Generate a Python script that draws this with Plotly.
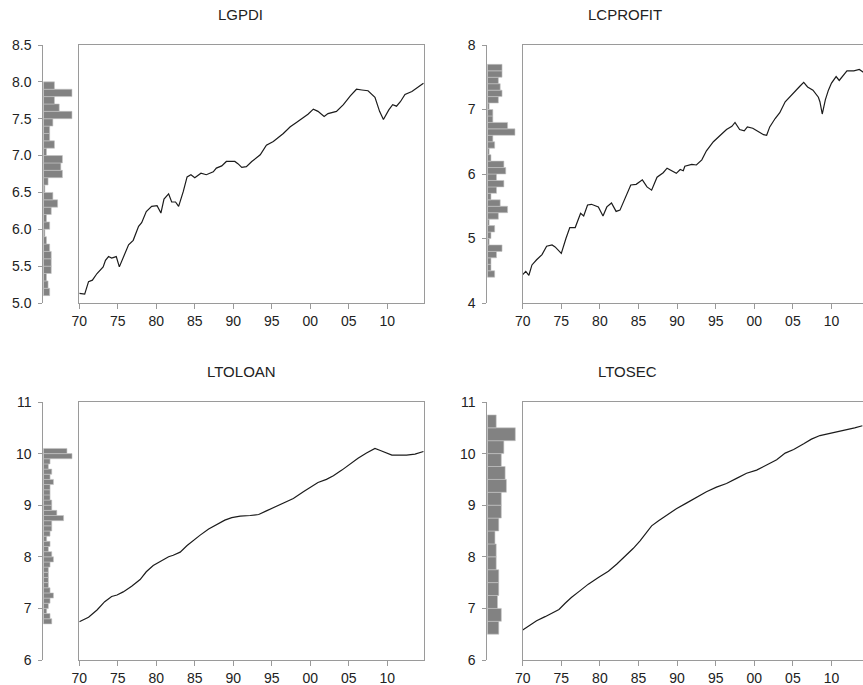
import plotly.graph_objects as go

W, H = 863, 685

# ---------------- series (year, log level) ----------------
lgpdi_year = [
    1970.0, 1970.7, 1971.2, 1971.7, 1972.3, 1973.1, 1973.4, 1973.8, 1974.2, 1974.8,
    1975.2, 1975.7, 1976.4, 1977.0, 1977.7, 1978.1, 1978.7, 1979.4, 1980.1, 1980.6,
    1981.0, 1981.6, 1982.0, 1982.5, 1982.9, 1983.5, 1984.0, 1984.5, 1985.0, 1985.8,
    1986.5, 1987.4, 1987.8, 1988.5, 1989.1, 1990.2, 1990.6, 1991.1, 1991.7, 1992.4,
    1993.5, 1994.3, 1995.2, 1996.5, 1997.4, 1998.2, 1999.1, 1999.7, 2000.4, 2001.0,
    2001.8, 2002.3, 2003.4, 2004.3, 2005.2, 2006.0, 2006.7, 2007.5, 2008.4, 2009.0,
    2009.5, 2010.2, 2010.7, 2011.2, 2011.7, 2012.3, 2013.2, 2014.1, 2014.7]
lgpdi_val = [
    5.13, 5.12, 5.29, 5.31, 5.40, 5.49, 5.58, 5.63, 5.61, 5.63,
    5.49, 5.61, 5.79, 5.85, 6.04, 6.09, 6.24, 6.31, 6.32, 6.22,
    6.41, 6.48, 6.37, 6.37, 6.31, 6.51, 6.71, 6.74, 6.70, 6.76,
    6.74, 6.78, 6.83, 6.86, 6.92, 6.92, 6.89, 6.84, 6.85, 6.92,
    7.01, 7.14, 7.19, 7.30, 7.39, 7.45, 7.52, 7.56, 7.63, 7.60,
    7.53, 7.57, 7.60, 7.69, 7.81, 7.90, 7.89, 7.88, 7.79, 7.60,
    7.49, 7.62, 7.69, 7.67, 7.73, 7.83, 7.87, 7.93, 7.98]

lcprofit_year = [
    1970.0, 1970.4, 1970.8, 1971.2, 1971.8, 1972.5, 1973.1, 1973.8, 1974.2, 1975.0,
    1975.6, 1976.1, 1976.8, 1977.5, 1977.9, 1978.4, 1978.9, 1979.8, 1980.4, 1980.9,
    1981.5, 1982.1, 1982.6, 1983.4, 1984.0, 1984.7, 1985.5, 1986.1, 1986.7, 1987.4,
    1988.2, 1988.7, 1989.4, 1989.9, 1990.4, 1990.8, 1991.0, 1991.9, 1992.5, 1993.2,
    1993.8, 1994.7, 1995.6, 1996.4, 1997.1, 1997.5, 1998.1, 1998.7, 1999.1, 1999.8,
    2000.5, 2001.2, 2001.6, 2002.0, 2002.7, 2003.3, 2004.0, 2004.6, 2005.3, 2005.9,
    2006.4, 2006.9, 2007.6, 2008.3, 2008.5, 2008.8, 2009.2, 2009.6, 2010.0, 2010.6,
    2011.0, 2011.5, 2012.0, 2012.9, 2013.6, 2014.2]
lcprofit_val = [
    4.44, 4.49, 4.43, 4.59, 4.67, 4.75, 4.88, 4.90, 4.87, 4.77,
    5.00, 5.17, 5.17, 5.39, 5.35, 5.52, 5.53, 5.49, 5.35, 5.49,
    5.55, 5.42, 5.44, 5.65, 5.83, 5.84, 5.91, 5.80, 5.75, 5.95,
    6.02, 6.09, 6.04, 6.01, 6.07, 6.05, 6.12, 6.15, 6.14, 6.22,
    6.36, 6.50, 6.60, 6.69, 6.74, 6.80, 6.69, 6.67, 6.73, 6.71,
    6.66, 6.61, 6.60, 6.73, 6.86, 6.95, 7.12, 7.20, 7.28, 7.36,
    7.42, 7.35, 7.30, 7.19, 7.12, 6.93, 7.15, 7.30, 7.41, 7.51,
    7.45, 7.52, 7.60, 7.60, 7.62, 7.57]

ltoloan_year = [
    1970.0, 1971.2, 1972.3, 1973.3, 1974.2, 1974.9, 1975.7, 1976.8, 1977.9, 1978.7,
    1979.6, 1980.5, 1981.6, 1982.2, 1983.1, 1984.0, 1984.9, 1985.7, 1986.8, 1987.8,
    1988.9, 1989.8, 1990.9, 1992.2, 1993.3, 1994.3, 1995.4, 1996.7, 1997.8, 1999.1,
    2000.2, 2001.0, 2002.1, 2003.0, 2004.1, 2005.2, 2006.2, 2007.3, 2008.0, 2008.4,
    2009.1, 2009.9, 2010.6, 2011.4, 2012.5, 2013.6, 2014.7]
ltoloan_val = [
    6.74, 6.83, 6.97, 7.13, 7.23, 7.26, 7.32, 7.43, 7.56, 7.71,
    7.83, 7.91, 8.00, 8.03, 8.09, 8.22, 8.33, 8.42, 8.54, 8.62,
    8.71, 8.76, 8.79, 8.80, 8.82, 8.89, 8.97, 9.06, 9.13, 9.26,
    9.37, 9.44, 9.50, 9.57, 9.68, 9.80, 9.91, 10.01, 10.07, 10.10,
    10.06, 10.01, 9.97, 9.97, 9.97, 9.99, 10.04]

ltosec_year = [
    1970.0, 1970.9, 1971.8, 1972.9, 1974.0, 1974.7, 1975.5, 1976.3, 1977.4, 1978.5,
    1979.8, 1981.1, 1982.2, 1983.2, 1984.3, 1985.2, 1986.1, 1986.7, 1987.6, 1988.7,
    1989.9, 1991.2, 1992.5, 1993.8, 1995.1, 1996.4, 1997.7, 1999.0, 2000.3, 2001.6,
    2002.9, 2004.0, 2005.1, 2006.4, 2007.4, 2008.5, 2009.8, 2010.9, 2011.9, 2013.0,
    2014.0]
ltosec_val = [
    6.58, 6.67, 6.76, 6.84, 6.92, 6.98, 7.10, 7.21, 7.34, 7.47,
    7.60, 7.72, 7.86, 8.00, 8.16, 8.31, 8.49, 8.60, 8.70, 8.81,
    8.93, 9.04, 9.15, 9.26, 9.35, 9.42, 9.52, 9.62, 9.68, 9.78,
    9.88, 10.01, 10.08, 10.19, 10.28, 10.35, 10.39, 10.43, 10.46, 10.50,
    10.54]

# ---------------- marginal histograms (lowest bin first) ----------------
lgpdi_bin_start, lgpdi_bin_width = 5.1, 0.1
lgpdi_counts = [4, 3, 2, 5, 5, 5, 4, 2, 1, 4, 2, 5, 9, 6, 1, 3, 12, 11, 12, 2,
                7, 4, 4, 6, 18, 10, 7, 18, 7]

lcprofit_bin_start, lcprofit_bin_width = 4.4, 0.1
lcprofit_counts = [4, 2, 2, 5, 8, 1, 2, 4, 1, 6, 11, 7, 2, 5, 9, 5, 10, 9, 2, 1,
                   4, 3, 15, 11, 3, 3, 1, 6, 8, 7, 6, 8, 8]

ltoloan_bin_start, ltoloan_bin_width = 6.7, 0.1
ltoloan_counts = [5, 4, 2, 3, 4, 6, 4, 3, 3, 3, 3, 4, 6, 5, 3, 4, 2, 4, 5, 5,
                  12, 8, 5, 5, 4, 4, 4, 6, 4, 5, 3, 4, 17, 14]

ltosec_bin_start, ltosec_bin_width = 6.5, 0.25
ltosec_counts = [9, 11, 8, 9, 9, 7, 7, 6, 9, 11, 11, 15, 14, 11, 13, 22, 7]

# ---------------- axis ticks ----------------
year_ticks = [1970, 1975, 1980, 1985, 1990, 1995, 2000, 2005, 2010]
year_labels = ["70", "75", "80", "85", "90", "95", "00", "05", "10"]

panels = [
    dict(name="LGPDI", year=lgpdi_year, val=lgpdi_val,
         start=lgpdi_bin_start, width=lgpdi_bin_width, counts=lgpdi_counts,
         yrange=[5.0, 8.5], yticks=[5.0, 5.5, 6.0, 6.5, 7.0, 7.5, 8.0, 8.5],
         yfmt="%.1f", hist_x=(43.3, 79.3), line_x=(79.3, 424.0),
         top=45.0, bottom=303.0, hmax=22.6, xend=2014.77, closed=True,
         title_x=240, title_y=14),
    dict(name="LCPROFIT", year=lcprofit_year, val=lcprofit_val,
         start=lcprofit_bin_start, width=lcprofit_bin_width, counts=lcprofit_counts,
         yrange=[4.0, 8.0], yticks=[4, 5, 6, 7, 8],
         yfmt="%d", hist_x=(487.3, 522.7), line_x=(522.7, 863.0),
         top=45.0, bottom=303.0, hmax=19.2, xend=2014.08, closed=False,
         title_x=625, title_y=14),
    dict(name="LTOLOAN", year=ltoloan_year, val=ltoloan_val,
         start=ltoloan_bin_start, width=ltoloan_bin_width, counts=ltoloan_counts,
         yrange=[6.0, 11.0], yticks=[6, 7, 8, 9, 10, 11],
         yfmt="%d", hist_x=(43.3, 79.3), line_x=(79.3, 424.0),
         top=402.0, bottom=660.0, hmax=21.3, xend=2014.77, closed=True,
         title_x=241, title_y=371),
    dict(name="LTOSEC", year=ltosec_year, val=ltosec_val,
         start=ltosec_bin_start, width=ltosec_bin_width, counts=ltosec_counts,
         yrange=[6.0, 11.0], yticks=[6, 7, 8, 9, 10, 11],
         yfmt="%d", hist_x=(487.3, 522.7), line_x=(522.7, 863.0),
         top=402.0, bottom=660.0, hmax=27.8, xend=2014.08, closed=False,
         title_x=627, title_y=371),
]

FONT = "Liberation Sans, Arial, sans-serif"
AXIS_GRAY = "#9a9a9a"
TEXT = "#222222"

fig = go.Figure()
layout = dict(
    width=W, height=H,
    margin=dict(l=0, r=0, t=0, b=0, autoexpand=False),
    paper_bgcolor="white", plot_bgcolor="white",
    showlegend=False,
    font=dict(family=FONT, size=14, color=TEXT),
    annotations=[],
)


def fx(px):
    return px / W


def fy(py):
    return 1 - py / H


for i, p in enumerate(panels):
    hx = 2 * i + 1          # histogram axes index
    lx = 2 * i + 2          # line-chart axes index
    hxa = "x" if hx == 1 else f"x{hx}"
    hya = "y" if hx == 1 else f"y{hx}"
    lxa, lya = f"x{lx}", f"y{lx}"
    ydom = [fy(p["bottom"]), fy(p["top"])]

    centers = [p["start"] + p["width"] * (k + 0.5) for k in range(len(p["counts"]))]
    fig.add_trace(go.Bar(
        x=p["counts"], y=centers, orientation="h", width=p["width"],
        marker=dict(color="#828282", line=dict(color="#c4c4c4", width=0.6)),
        xaxis=hxa, yaxis=hya, hoverinfo="skip"))

    fig.add_trace(go.Scatter(
        x=p["year"], y=p["val"], mode="lines",
        line=dict(color="#1c1c1c", width=1.2),
        xaxis=lxa, yaxis=lya, cliponaxis=True, hoverinfo="skip"))

    key_hx = "xaxis" if hx == 1 else f"xaxis{hx}"
    key_hy = "yaxis" if hx == 1 else f"yaxis{hx}"
    layout[key_hx] = dict(domain=[fx(p["hist_x"][0]), fx(p["hist_x"][1])],
                          range=[0, p["hmax"]], visible=False, automargin=False,
                          anchor=hya, fixedrange=True)
    layout[key_hy] = dict(domain=ydom, range=p["yrange"], anchor=hxa,
                          automargin=False,
                          tickvals=p["yticks"],
                          ticktext=[p["yfmt"] % v for v in p["yticks"]],
                          ticks="outside", ticklen=4, tickcolor=AXIS_GRAY,
                          showline=True, linecolor=AXIS_GRAY, linewidth=1,
                          showgrid=False, zeroline=False, ticklabelstandoff=4,
                          tickfont=dict(family=FONT, size=14, color=TEXT))
    layout[f"xaxis{lx}"] = dict(domain=[fx(p["line_x"][0]), fx(p["line_x"][1])],
                                range=[1970, p["xend"]], anchor=lya,
                                automargin=False,
                                tickvals=year_ticks, ticktext=year_labels,
                                ticks="outside", ticklen=5, tickcolor=AXIS_GRAY,
                                showline=True, mirror=True, linecolor=AXIS_GRAY,
                                linewidth=1, showgrid=False, zeroline=False,
                                tickfont=dict(family=FONT, size=14, color=TEXT))
    layout[f"yaxis{lx}"] = dict(domain=ydom, range=p["yrange"], anchor=lxa,
                                automargin=False,
                                showticklabels=False, ticks="",
                                showline=True, mirror=p["closed"],
                                linecolor=AXIS_GRAY, linewidth=1,
                                showgrid=False, zeroline=False)
    layout["annotations"].append(dict(
        text=p["name"], x=fx(p["title_x"]), y=fy(p["title_y"]),
        xref="paper", yref="paper", xanchor="center", yanchor="middle",
        showarrow=False, font=dict(family=FONT, size=15, color=TEXT)))

fig.update_layout(**layout)
fig.write_html("out.html")
